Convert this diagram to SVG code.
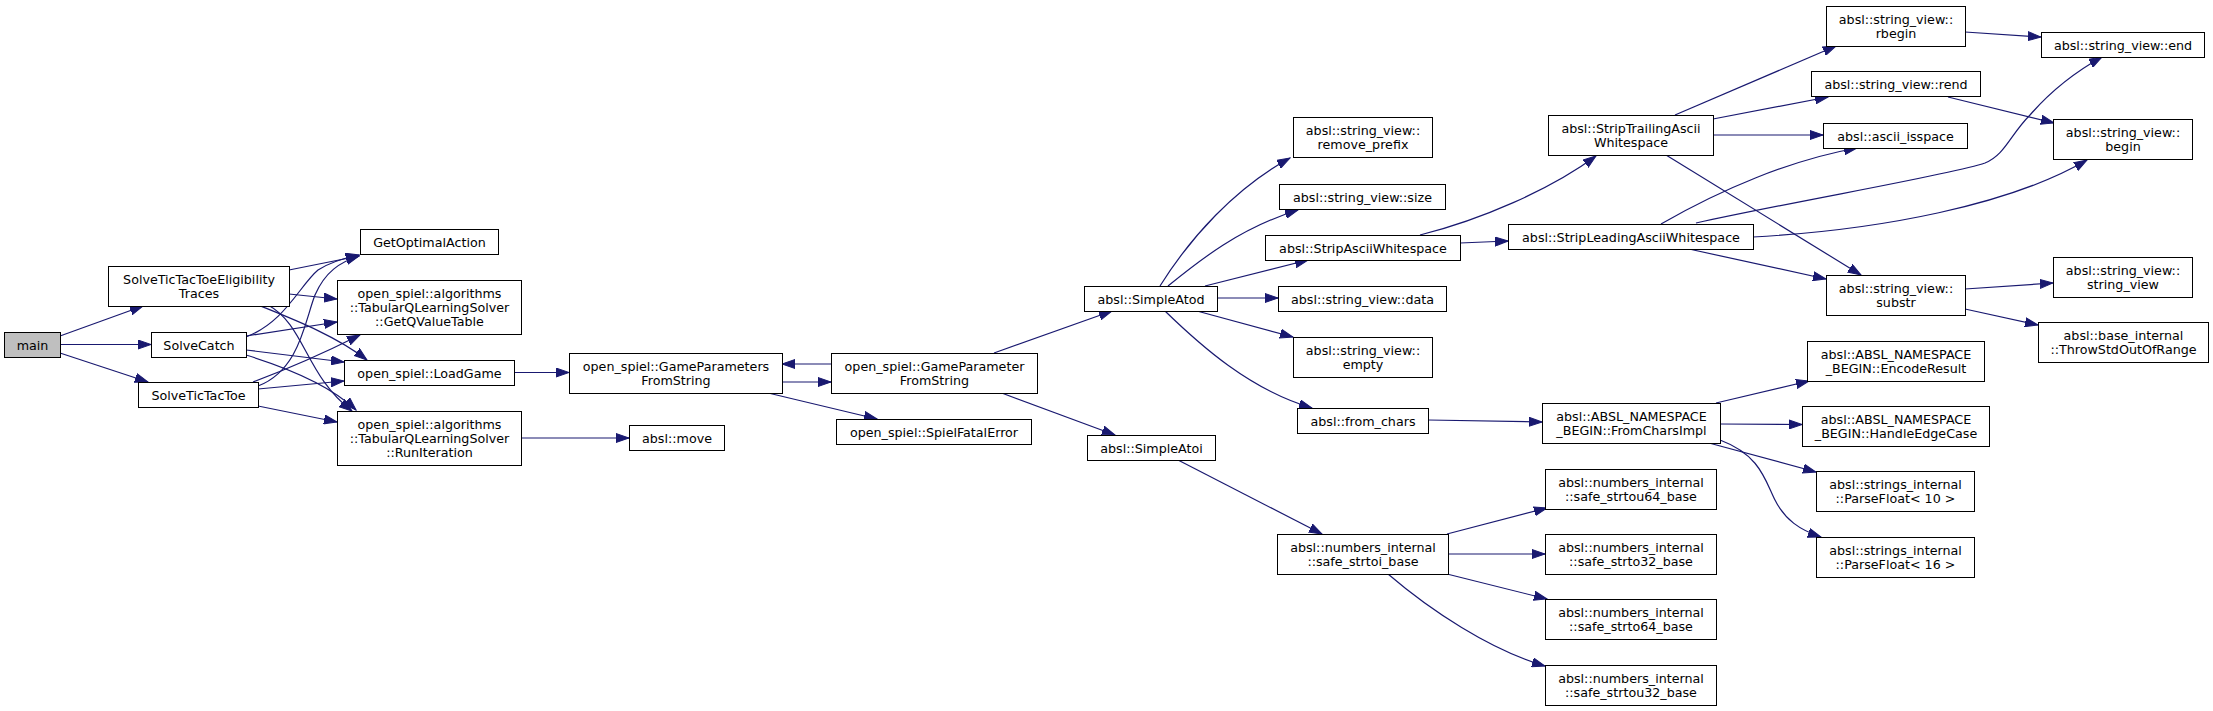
<svg xmlns="http://www.w3.org/2000/svg" width="2213" height="711" viewBox="0 0 2213 711">
<style>
.n rect{fill:#fff;stroke:#000;stroke-width:1}
.n.root rect{fill:#bfbfbf}
.n text{font-family:"DejaVu Sans",sans-serif;font-size:12.7px;fill:#000;text-anchor:middle}
.e path{fill:none;stroke:#191970;stroke-width:1.2}
</style>
<defs>
<marker id="a" markerUnits="userSpaceOnUse" markerWidth="14" markerHeight="10" refX="13" refY="5" orient="auto">
<path d="M0,0.5 L13,5 L0,9.5 z" fill="#191970" stroke="#191970" stroke-width="1"/>
</marker>
</defs>
<rect width="2213" height="711" fill="#fff"/>
<g class="e" marker-end="url(#a)">
<path d="M60,336 L143,306" marker-end="url(#a)"/>
<path d="M60,344.5 L151,344.5" marker-end="url(#a)"/>
<path d="M60,353 L148,382" marker-end="url(#a)"/>
<path d="M289,270 L359,256" marker-end="url(#a)"/>
<path d="M289,294 L337,299" marker-end="url(#a)"/>
<path d="M258,305 C290,318 335,335 367,360" marker-end="url(#a)"/>
<path d="M268,305 C305,325 305,375 352,411" marker-end="url(#a)"/>
<path d="M246,337 C285,322 300,285 318,270 C330,262 345,258 359,255" marker-end="url(#a)"/>
<path d="M246,336 L337,322" marker-end="url(#a)"/>
<path d="M246,350 L344,362" marker-end="url(#a)"/>
<path d="M246,355 C285,367 330,385 356,410" marker-end="url(#a)"/>
<path d="M258,386 C300,370 305,320 315,295 C325,272 340,262 359,256" marker-end="url(#a)"/>
<path d="M253,382 C285,370 330,350 360,335" marker-end="url(#a)"/>
<path d="M258,389 L344,381" marker-end="url(#a)"/>
<path d="M258,406 L337,422" marker-end="url(#a)"/>
<path d="M514,372.5 L569,372.5" marker-end="url(#a)"/>
<path d="M521,438 L629,438" marker-end="url(#a)"/>
<path d="M782,382 L831,382" marker-end="url(#a)"/>
<path d="M831,364 L782,364" marker-end="url(#a)"/>
<path d="M764,392 L877,419" marker-end="url(#a)"/>
<path d="M994,353 L1112,311" marker-end="url(#a)"/>
<path d="M999,392 L1115,435" marker-end="url(#a)"/>
<path d="M1160,286 C1190,238 1235,188 1290,158" marker-end="url(#a)"/>
<path d="M1168,286 C1200,260 1240,228 1298,210" marker-end="url(#a)"/>
<path d="M1205,286 L1308,260" marker-end="url(#a)"/>
<path d="M1217,298 L1278,298" marker-end="url(#a)"/>
<path d="M1197,311 L1293,337" marker-end="url(#a)"/>
<path d="M1165,311 C1200,345 1250,390 1312,408" marker-end="url(#a)"/>
<path d="M1420,235 C1480,220 1550,190 1596,156" marker-end="url(#a)"/>
<path d="M1460,243 L1508,241" marker-end="url(#a)"/>
<path d="M1675,115 L1836,46" marker-end="url(#a)"/>
<path d="M1713,119 L1828,97" marker-end="url(#a)"/>
<path d="M1713,135 L1823,135" marker-end="url(#a)"/>
<path d="M1666,155 L1861,275" marker-end="url(#a)"/>
<path d="M1661,224 C1720,190 1790,160 1857,148" marker-end="url(#a)"/>
<path d="M1696,223 C1800,200 1950,175 1985,163 C2005,155 2010,135 2030,115 C2050,92 2075,72 2102,57" marker-end="url(#a)"/>
<path d="M1753,237 C1880,230 2010,205 2087,160" marker-end="url(#a)"/>
<path d="M1689,249 L1826,279" marker-end="url(#a)"/>
<path d="M1965,32 L2041,37" marker-end="url(#a)"/>
<path d="M1948,97 L2054,123" marker-end="url(#a)"/>
<path d="M1965,289 L2053,283" marker-end="url(#a)"/>
<path d="M1965,309 L2038,325" marker-end="url(#a)"/>
<path d="M1428,420 L1542,422" marker-end="url(#a)"/>
<path d="M1716,403 L1809,381" marker-end="url(#a)"/>
<path d="M1720,424 L1802,424.5" marker-end="url(#a)"/>
<path d="M1709,443 L1816,472" marker-end="url(#a)"/>
<path d="M1720,440 C1760,455 1765,480 1775,500 C1785,520 1800,530 1821,537" marker-end="url(#a)"/>
<path d="M1178,460 L1322,534" marker-end="url(#a)"/>
<path d="M1447,534 L1547,508" marker-end="url(#a)"/>
<path d="M1448,554 L1545,554" marker-end="url(#a)"/>
<path d="M1447,574 L1547,599" marker-end="url(#a)"/>
<path d="M1388,574 C1430,610 1490,650 1545,666" marker-end="url(#a)"/>
</g>
<g id="main" class="n root"><rect x="4.5" y="332.5" width="56" height="25"/><text x="32.5" y="349.5">main</text></g>
<g id="elig" class="n"><rect x="108.5" y="266.5" width="181" height="40"/><text x="199" y="283.5">SolveTicTacToeEligibility</text><text x="199" y="297.5">Traces</text></g>
<g id="catch" class="n"><rect x="151.5" y="332.5" width="95" height="25"/><text x="199" y="349.5">SolveCatch</text></g>
<g id="ttt" class="n"><rect x="138.5" y="382.5" width="120" height="25"/><text x="198.5" y="399.5">SolveTicTacToe</text></g>
<g id="goa" class="n"><rect x="360.5" y="229.5" width="138" height="25"/><text x="429.5" y="246.5">GetOptimalAction</text></g>
<g id="gqv" class="n"><rect x="337.5" y="280.5" width="184" height="54"/><text x="429.5" y="297.5">open_spiel::algorithms</text><text x="429.5" y="311.5">::TabularQLearningSolver</text><text x="429.5" y="325.5">::GetQValueTable</text></g>
<g id="lg" class="n"><rect x="344.5" y="360.5" width="170" height="25"/><text x="429.5" y="377.5">open_spiel::LoadGame</text></g>
<g id="ri" class="n"><rect x="337.5" y="411.5" width="184" height="54"/><text x="429.5" y="428.5">open_spiel::algorithms</text><text x="429.5" y="442.5">::TabularQLearningSolver</text><text x="429.5" y="456.5">::RunIteration</text></g>
<g id="gpsfs" class="n"><rect x="569.5" y="353.5" width="213" height="40"/><text x="676" y="370.5">open_spiel::GameParameters</text><text x="676" y="384.5">FromString</text></g>
<g id="mv" class="n"><rect x="629.5" y="425.5" width="95" height="25"/><text x="677" y="442.5">absl::move</text></g>
<g id="gpfs" class="n"><rect x="831.5" y="353.5" width="206" height="40"/><text x="934.5" y="370.5">open_spiel::GameParameter</text><text x="934.5" y="384.5">FromString</text></g>
<g id="sfe" class="n"><rect x="836.5" y="419.5" width="195" height="25"/><text x="934" y="436.5">open_spiel::SpielFatalError</text></g>
<g id="atod" class="n"><rect x="1084.5" y="286.5" width="133" height="25"/><text x="1151" y="303.5">absl::SimpleAtod</text></g>
<g id="atoi" class="n"><rect x="1087.5" y="435.5" width="128" height="25"/><text x="1151.5" y="452.5">absl::SimpleAtoi</text></g>
<g id="rp" class="n"><rect x="1293.5" y="117.5" width="139" height="40"/><text x="1363" y="134.5">absl::string_view::</text><text x="1363" y="148.5">remove_prefix</text></g>
<g id="sz" class="n"><rect x="1279.5" y="184.5" width="166" height="25"/><text x="1362.5" y="201.5">absl::string_view::size</text></g>
<g id="saw" class="n"><rect x="1265.5" y="235.5" width="195" height="25"/><text x="1363" y="252.5">absl::StripAsciiWhitespace</text></g>
<g id="dt" class="n"><rect x="1278.5" y="286.5" width="168" height="25"/><text x="1362.5" y="303.5">absl::string_view::data</text></g>
<g id="em" class="n"><rect x="1293.5" y="337.5" width="139" height="40"/><text x="1363" y="354.5">absl::string_view::</text><text x="1363" y="368.5">empty</text></g>
<g id="fc" class="n"><rect x="1297.5" y="408.5" width="131" height="25"/><text x="1363" y="425.5">absl::from_chars</text></g>
<g id="ssb" class="n"><rect x="1277.5" y="534.5" width="171" height="40"/><text x="1363" y="551.5">absl::numbers_internal</text><text x="1363" y="565.5">::safe_strtoi_base</text></g>
<g id="stw" class="n"><rect x="1548.5" y="115.5" width="165" height="40"/><text x="1631" y="132.5">absl::StripTrailingAscii</text><text x="1631" y="146.5">Whitespace</text></g>
<g id="slw" class="n"><rect x="1508.5" y="224.5" width="245" height="25"/><text x="1631" y="241.5">absl::StripLeadingAsciiWhitespace</text></g>
<g id="fci" class="n"><rect x="1542.5" y="403.5" width="178" height="40"/><text x="1631.5" y="420.5">absl::ABSL_NAMESPACE</text><text x="1631.5" y="434.5">_BEGIN::FromCharsImpl</text></g>
<g id="u64" class="n"><rect x="1545.5" y="469.5" width="171" height="40"/><text x="1631" y="486.5">absl::numbers_internal</text><text x="1631" y="500.5">::safe_strtou64_base</text></g>
<g id="s32" class="n"><rect x="1545.5" y="534.5" width="171" height="40"/><text x="1631" y="551.5">absl::numbers_internal</text><text x="1631" y="565.5">::safe_strto32_base</text></g>
<g id="s64" class="n"><rect x="1545.5" y="599.5" width="171" height="40"/><text x="1631" y="616.5">absl::numbers_internal</text><text x="1631" y="630.5">::safe_strto64_base</text></g>
<g id="u32" class="n"><rect x="1545.5" y="665.5" width="171" height="40"/><text x="1631" y="682.5">absl::numbers_internal</text><text x="1631" y="696.5">::safe_strtou32_base</text></g>
<g id="rb" class="n"><rect x="1826.5" y="6.5" width="139" height="40"/><text x="1896" y="23.5">absl::string_view::</text><text x="1896" y="37.5">rbegin</text></g>
<g id="rn" class="n"><rect x="1811.5" y="71.5" width="169" height="25"/><text x="1896" y="88.5">absl::string_view::rend</text></g>
<g id="isp" class="n"><rect x="1823.5" y="123.5" width="144" height="25"/><text x="1895.5" y="140.5">absl::ascii_isspace</text></g>
<g id="sub" class="n"><rect x="1826.5" y="275.5" width="139" height="40"/><text x="1896" y="292.5">absl::string_view::</text><text x="1896" y="306.5">substr</text></g>
<g id="enc" class="n"><rect x="1807.5" y="341.5" width="177" height="40"/><text x="1896" y="358.5">absl::ABSL_NAMESPACE</text><text x="1896" y="372.5">_BEGIN::EncodeResult</text></g>
<g id="hec" class="n"><rect x="1802.5" y="406.5" width="187" height="40"/><text x="1896" y="423.5">absl::ABSL_NAMESPACE</text><text x="1896" y="437.5">_BEGIN::HandleEdgeCase</text></g>
<g id="pf10" class="n"><rect x="1816.5" y="471.5" width="158" height="40"/><text x="1895.5" y="488.5">absl::strings_internal</text><text x="1895.5" y="502.5" xml:space="preserve">::ParseFloat&lt; 10 &gt;</text></g>
<g id="pf16" class="n"><rect x="1816.5" y="537.5" width="158" height="40"/><text x="1895.5" y="554.5">absl::strings_internal</text><text x="1895.5" y="568.5" xml:space="preserve">::ParseFloat&lt; 16 &gt;</text></g>
<g id="end" class="n"><rect x="2041.5" y="32.5" width="163" height="25"/><text x="2123" y="49.5">absl::string_view::end</text></g>
<g id="beg" class="n"><rect x="2053.5" y="119.5" width="139" height="40"/><text x="2123" y="136.5">absl::string_view::</text><text x="2123" y="150.5">begin</text></g>
<g id="sv" class="n"><rect x="2053.5" y="257.5" width="139" height="40"/><text x="2123" y="274.5">absl::string_view::</text><text x="2123" y="288.5">string_view</text></g>
<g id="thr" class="n"><rect x="2038.5" y="322.5" width="170" height="40"/><text x="2123.5" y="339.5">absl::base_internal</text><text x="2123.5" y="353.5">::ThrowStdOutOfRange</text></g>
</svg>
